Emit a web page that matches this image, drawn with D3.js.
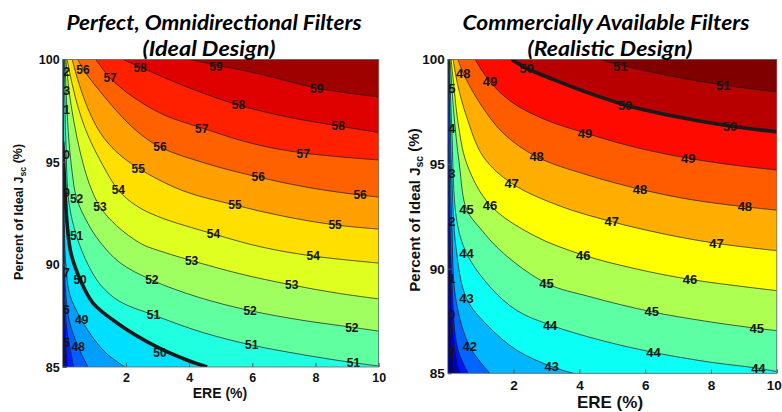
<!DOCTYPE html>
<html>
<head>
<meta charset="utf-8">
<script src="https://cdn.jsdelivr.net/npm/d3@7"></script>
<style>
  body { margin: 0; background: #fff; }
  text { font-family: Arial, "Liberation Sans", sans-serif; }
</style>
</head>
<body>
<svg id="chart" width="782" height="412"></svg>
<script>
// ---- data: contour lines as [ERE, Jsc%] points ----
var xTicks = [2, 4, 6, 8, 10];
var yTicks = [85, 90, 95, 100];

var leftLevels = [45, 46, 47, 48, 49, 50, 51, 52, 53, 54, 55, 56, 57, 58, 59];
var leftLines = [
  [[0,90],[0.02,87],[0.07,85]],
  [[0,93],[0.04,88],[0.15,85]],
  [[0,97],[0.04,90],[0.12,87],[0.35,85]],
  [[0.02,100],[0.04,92],[0.08,89],[0.2,87.3],[0.49,85.99],[0.8,85]],
  [[0.03,100],[0.05,92],[0.1,90],[0.23,88.5],[0.6,87.29],[1.02,86.3],[1.43,85.6],[1.97,85]],
  [[0,96],[0.03,95],[0.13,92.17],[0.26,90.56],[0.55,89.28],[0.96,88.12],[1.72,87.15],[2.98,85.98],[3.93,85.34],[4.57,85]],
  [[0.05,100],[0.1,96],[0.2,93],[0.44,91.39],[0.8,90],[1.2,89],[1.8,88.2],[2.87,87.54],[4.4,86.7],[5.98,86.07],[7.6,85.6],[9.2,85.21],[10,85.05]],
  [[0.07,100],[0.12,98],[0.2,96],[0.3,94.5],[0.44,93.23],[0.8,92],[1.18,91.1],[1.8,90.1],[2.82,89.24],[4.3,88.4],[5.93,87.75],[7.5,87.3],[9.15,86.94],[10,86.75]],
  [[0.1,100],[0.2,98.5],[0.35,97],[0.55,95.5],[0.85,93.9],[1.18,92.82],[1.7,91.9],[2.5,91.0],[3.2,90.6],[4.08,90.19],[5.6,89.55],[7.25,89],[8.7,88.6],[10,88.32]],
  [[0.14,100],[0.3,98.8],[0.5,97.6],[0.8,96.3],[1.25,94.9],[1.76,93.63],[2.3,92.9],[3,92.35],[4.77,91.49],[6.3,90.85],[7.93,90.41],[10,90.07]],
  [[0.3,100],[0.5,98.9],[0.8,97.6],[1.2,96.4],[1.7,95.5],[2.38,94.71],[3.8,93.6],[5.45,92.9],[7,92.35],[8.62,91.93],[10,91.73]],
  [[0.48,100],[0.64,99.54],[1.1,98.6],[1.7,97.5],[2.35,96.5],[3.08,95.73],[4.6,94.9],[6.18,94.27],[7.8,93.75],[9.41,93.39],[10,93.29]],
  [[1.05,100],[1.5,99.1],[2.2,98.2],[3.2,97.3],[4.41,96.66],[6,95.9],[7.6,95.44],[10,95.1]],
  [[1.91,100],[2.45,99.63],[4.03,98.6],[5.55,97.78],[7.1,97.2],[8.71,96.76],[10,96.44]],
  [[4.03,100],[4.85,99.73],[6.24,99.29],[8.05,98.6],[10,98.17]]
];
// [level, ERE, Jsc] of each printed contour label (ERE 0 = label cut by the left edge)
var leftLabels = [
  [59,4.85,99.66],[59,8.04,98.6],[58,2.45,99.6],[58,5.56,97.78],[58,8.72,96.76],
  [57,1.5,99.1],[57,4.4,96.64],[57,7.61,95.42],[56,0.64,99.5],[56,3.08,95.75],[56,6.19,94.28],[56,9.41,93.39],
  [55,2.39,94.69],[55,5.45,92.9],[55,8.62,91.93],[54,1.76,93.63],[54,4.77,91.49],[54,7.93,90.41],
  [53,1.18,92.82],[53,4.08,90.19],[53,7.25,89],[52,0.44,93.23],[52,2.82,89.24],[52,5.93,87.75],[52,9.15,86.94],
  [51,0.44,91.39],[51,2.87,87.54],[51,5.98,86.07],[51,9.2,85.21],[50,0.55,89.28],[50,3.08,85.68],
  [49,0.6,87.29],[48,0.49,85.99],
  [52,0,99.39],[53,0,98.5],[51,0,97.54],[50,0,95.34],[49,0,93.49],[47,0,89.59],[46,0,87.78],[45,0,86.17]
];

var rightLevels = [39, 40, 41, 42, 43, 44, 45, 46, 47, 48, 49, 50, 51];
var rightLines = [
  [[0,92],[0.12,86.03],[0.22,85]],
  [[0,96],[0.12,87.8],[0.22,86],[0.37,85]],
  [[0.02,100],[0.12,89.54],[0.3,86.2],[0.62,85]],
  [[0.03,100],[0.12,92.25],[0.25,88.5],[0.67,86.27],[1.28,85]],
  [[0.04,100],[0.12,94.56],[0.25,91],[0.57,88.58],[1.2,87.3],[2.1,86.1],[3.16,85.32],[3.82,85]],
  [[0.05,100],[0.12,96.7],[0.27,92.33],[0.57,90.74],[1.28,89.14],[2.1,88],[3.11,87.31],[4.6,86.6],[6.25,86.0],[7.9,85.55],[9.44,85.24],[10,85.08]],
  [[0.07,100],[0.18,97.5],[0.35,95],[0.57,92.84],[1.0,91.9],[1.69,90.74],[3.0,89.3],[4.32,88.66],[6.2,87.94],[7.8,87.5],[9.39,87.15],[10,87.04]],
  [[0.1,100],[0.2,98.5],[0.31,97],[0.58,95],[1.28,93.05],[2.6,91.6],[4.12,90.65],[5.7,90],[7.36,89.49],[10,88.95]],
  [[0.16,100],[0.3,98.8],[0.57,97.27],[1.08,95.35],[1.94,94.08],[3.4,93],[4.98,92.25],[6.6,91.65],[8.17,91.21],[10,90.86]],
  [[0.31,100],[0.47,99.34],[0.98,97.9],[1.69,96.47],[2.7,95.35],[4.2,94.5],[5.84,93.8],[7.4,93.3],[9.03,92.96],[10,92.8]],
  [[0.83,100],[1.28,98.94],[2,97.9],[3,97.1],[4.17,96.49],[5.7,95.8],[7.31,95.28],[8.7,94.95],[10,94.72]],
  [[1.94,100],[2.4,99.58],[3.2,99.05],[4.1,98.5],[5.39,97.83],[7,97.25],[8.58,96.82],[10,96.54]],
  [[4.63,100],[5.23,99.74],[6.8,99.2],[8.37,98.78],[10,98.45]]
];
var rightLabels = [
  [51,5.24,99.66],[51,8.37,98.78],[50,2.4,99.58],[50,5.39,97.83],[50,8.58,96.82],
  [49,1.28,98.94],[49,4.17,96.47],[49,7.31,95.28],[48,0.47,99.34],[48,2.7,95.35],[48,5.84,93.8],[48,9.03,92.96],
  [47,1.94,94.08],[47,4.98,92.25],[47,8.17,91.21],[46,1.28,93.05],[46,4.12,90.65],[46,7.36,89.49],
  [45,0.57,92.84],[45,3.0,89.3],[45,6.2,87.94],[45,9.39,87.15],[44,0.57,90.74],[44,3.11,87.31],[44,6.25,86.0],[44,9.44,85.24],
  [43,0.57,88.58],[43,3.16,85.32],[42,0.67,86.27],
  [44,0,96.7],[43,0,94.56],[42,0,92.25],[41,0,89.54],[40,0,87.8],[39,0,86.03],[45,0,98.6]
];

var svg = d3.select("#chart");

// MATLAB-like jet colormap
function jet(t) {
  t = Math.max(0, Math.min(1, t));
  var c = function(v){ return Math.round(255 * Math.max(0, Math.min(1, v))); };
  return d3.rgb(c(1.5 - Math.abs(4*t - 3)), c(1.5 - Math.abs(4*t - 2)), c(1.5 - Math.abs(4*t - 1)));
}

function drawPanel(p) {
  var x = d3.scaleLinear().domain([0, 10]).range([p.left, p.right]);
  var y = d3.scaleLinear().domain([85, 100]).range([p.bottom, p.top]);
  var band = d3.scaleLinear().domain(p.cdomain).range([0, 1]);
  var line = d3.line().x(function(d){ return x(d[0]); }).y(function(d){ return y(d[1]); })
               .curve(d3.curveCatmullRom);

  svg.append("clipPath").attr("id", "clip" + p.id)
     .append("rect").attr("x", p.left).attr("y", p.top)
     .attr("width", p.right - p.left).attr("height", p.bottom - p.top);

  var plot = svg.append("g").attr("clip-path", "url(#clip" + p.id + ")");

  plot.append("rect").attr("x", p.left).attr("y", p.top)
      .attr("width", p.right - p.left).attr("height", p.bottom - p.top)
      .attr("fill", jet(band(p.levels[0] - 1)));

  // region above each contour (toward the top-right corner)
  var region = function(pts) {
    var corners = [];
    if (pts[pts.length-1][1] <= 85) corners.push([10, 85]);
    corners.push([10, 100]);
    if (pts[0][0] <= 0) corners.push([0, 100]);
    return line(pts) + corners.map(function(c){ return "L" + x(c[0]) + "," + y(c[1]); }).join("") + "Z";
  };

  plot.selectAll(".band").data(p.lines).enter().append("path")
      .attr("d", region)
      .attr("fill", function(d, i){ return jet(band(p.levels[i])); });

  plot.selectAll(".iso").data(p.lines).enter().append("path")
      .attr("d", line)
      .attr("fill", "none")
      .attr("stroke", "#1a1a1a")
      .attr("stroke-width", function(d, i){ return p.levels[i] === 50 ? 3.6 : 0.7; });

  // labels sitting on the left edge only show their last digit
  plot.selectAll(".lab").data(p.labels).enter().append("text")
      .attr("x", function(d){ return d[1] === 0 ? x(0) + 0.5 : x(d[1]); })
      .attr("y", function(d){ return y(d[2]); })
      .attr("dy", "0.36em")
      .attr("text-anchor", function(d){ return d[1] === 0 ? "start" : "middle"; })
      .style("font-size", p.labelSize + "px")
      .style("font-weight", "bold")
      .attr("fill", "#151515")
      .text(function(d){ return d[1] === 0 ? String(d[0]).slice(-1) : d[0]; });

  svg.append("rect").attr("x", p.left).attr("y", p.top)
     .attr("width", p.right - p.left).attr("height", p.bottom - p.top)
     .attr("fill", "none").attr("stroke", "#666").attr("stroke-width", 0.8);

  var xa = svg.append("g").attr("transform", "translate(0," + p.bottom + ")")
     .call(d3.axisBottom(x).tickValues(xTicks).tickSizeInner(-4).tickSizeOuter(0).tickPadding(p.xPad));
  var ya = svg.append("g").attr("transform", "translate(" + p.left + ",0)")
     .call(d3.axisLeft(y).tickValues(yTicks).tickSizeInner(-4).tickSizeOuter(0).tickPadding(3));
  [xa, ya].forEach(function(a){
    a.select(".domain").remove();
    a.selectAll("line").attr("stroke", "#555");
    a.selectAll("text").attr("fill", "#111").style("font-size", p.tickSize + "px")
     .style("font-weight", "bold").style("font-family", "Arial, 'Liberation Sans', sans-serif");
  });
  xa.selectAll("text").filter(function(d){ return d === 10; }).attr("dx", p.lastDx);

  svg.append("text").attr("x", p.xLabel[0]).attr("y", p.xLabel[1])
     .attr("text-anchor", "middle").style("font-size", p.xLabelSize + "px")
     .style("font-weight", "bold").attr("fill", "#111").text("ERE (%)");

  var yl = svg.append("text")
     .attr("transform", "translate(" + p.yLabel[0] + "," + p.yLabel[1] + ") rotate(-90)")
     .attr("text-anchor", "middle").style("font-size", p.yLabelSize + "px")
     .style("font-weight", "bold").attr("fill", "#111");
  yl.append("tspan").text("Percent of Ideal J");
  yl.append("tspan").attr("dy", "0.3em").style("font-size", (p.yLabelSize * 0.7) + "px").text("sc");
  yl.append("tspan").attr("dy", "-0.3em").text(" (%)");

  p.title.forEach(function(t){
    svg.append("text").attr("x", t.x).attr("y", t.y)
       .attr("text-anchor", "middle")
       .attr("textLength", t.w).attr("lengthAdjust", "spacingAndGlyphs")
       .style("font-family", "Lato, 'Open Sans', sans-serif")
       .style("font-size", "20px").style("font-weight", "bold").style("font-style", "italic")
       .attr("fill", "#000").text(t.text);
  });
}

drawPanel({
  id: "L", left: 62.7, right: 378.7, top: 59.5, bottom: 367,
  levels: leftLevels, lines: leftLines, labels: leftLabels,
  cdomain: [43.5, 59.5], labelSize: 12, tickSize: 12.5, xPad: 6, lastDx: 0,
  xLabel: [220, 398], xLabelSize: 14, yLabel: [23, 212], yLabelSize: 12.5,
  title: [
    {text: "Perfect, Omnidirectional Filters", x: 214, y: 30, w: 295},
    {text: "(Ideal Design)", x: 209, y: 56, w: 133}
  ]
});

drawPanel({
  id: "R", left: 447.8, right: 776.8, top: 59.5, bottom: 373.3,
  levels: rightLevels, lines: rightLines, labels: rightLabels,
  cdomain: [38.19, 50.69], labelSize: 13, tickSize: 13.5, xPad: 7, lastDx: -3,
  xLabel: [610, 408], xLabelSize: 17, yLabel: [420, 210], yLabelSize: 15,
  title: [
    {text: "Commercially Available Filters", x: 606, y: 30, w: 287},
    {text: "(Realistic Design)", x: 610, y: 56, w: 165}
  ]
});
</script>
</body>
</html>
